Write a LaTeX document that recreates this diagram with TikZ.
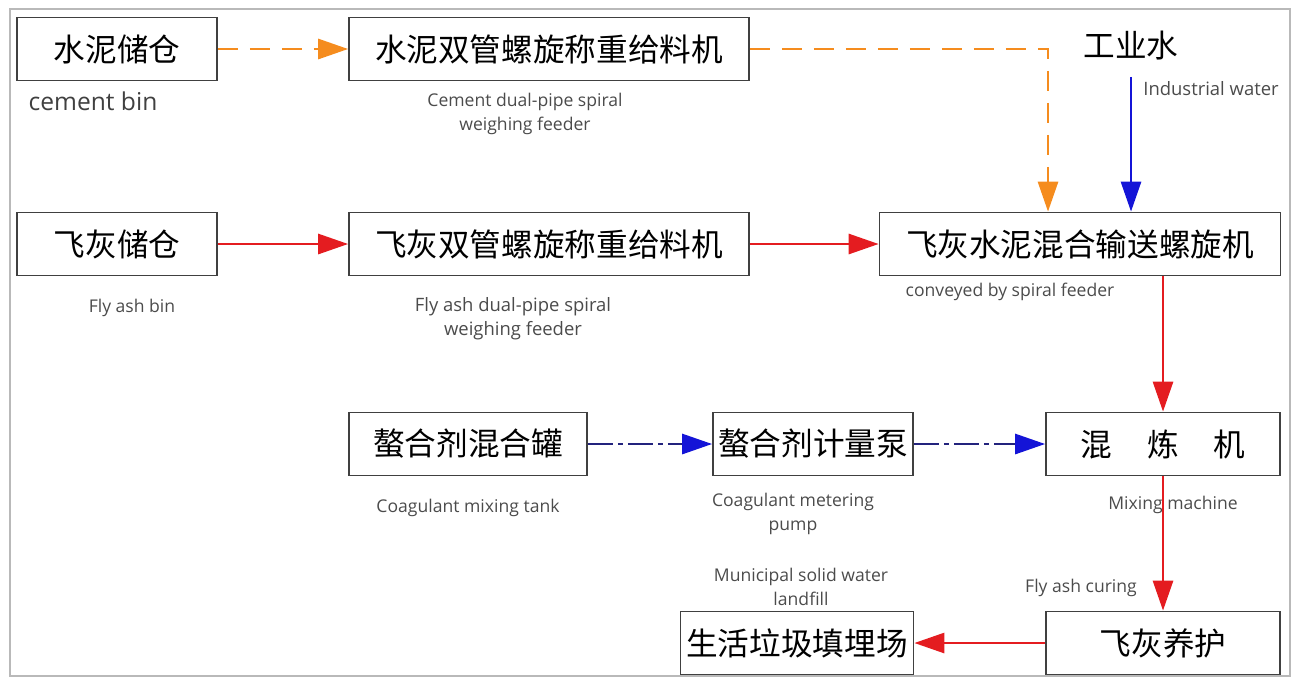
\documentclass[tikz,border=0pt]{standalone}
\usepackage{fontspec}
\setmainfont{Open Sans}
\newfontfamily\cjk{Noto Sans CJK SC}
\usepackage{tikz}
\usetikzlibrary{arrows.meta, positioning}
\definecolor{FeedOrange}{RGB}{245,140,30}
\definecolor{AshRed}{RGB}{228,28,32}
\definecolor{WaterBlue}{RGB}{20,20,215}
\definecolor{DoseNavy}{RGB}{35,35,125}
\definecolor{LabelGray}{RGB}{75,75,75}

\begin{document}
\begin{tikzpicture}[x=0.02cm,y=-0.02cm,
	box/.style={draw=black!75,line width=1pt,minimum height=1.26cm,inner sep=0pt,
		font=\cjk\fontsize{18}{18}\selectfont},
	note/.style={text=LabelGray,font=\fontsize{10}{13.5}\selectfont,align=center,inner sep=0pt},
	flow/.style={line width=1.6pt,-{Triangle[length=0.6cm,width=0.4cm]}},
	cementflow/.style={flow,FeedOrange,dash pattern=on 0.4cm off 0.24cm},
	ashflow/.style={flow,AshRed},
	waterflow/.style={flow,WaterBlue},
	doseflow/.style={line width=1.6pt,DoseNavy,dash pattern=on 0.5cm off 0.1cm on 0.1cm off 0.1cm,
		-{Triangle[length=0.6cm,width=0.4cm,color=WaterBlue]}},
]
\useasboundingbox (0,0) rectangle (1300,677);
\draw[gray!55,line width=1pt] (10,9) rectangle (1290,676);

% boxes
\node[box,minimum width=4cm] (cbin) at (117,49) {水泥储仓};
\node[box,minimum width=8cm] (cfeed) at (549,49) {水泥双管螺旋称重给料机};
\node[inner sep=0pt,font=\cjk\fontsize{18}{18}\selectfont] (water) at (1131,46) {工业水};
\node[box,minimum width=4cm] (abin) at (117,244) {飞灰储仓};
\node[box,minimum width=8cm] (afeed) at (549,244) {飞灰双管螺旋称重给料机};
\node[box,minimum width=8.02cm] (convey) at (1080,244) {飞灰水泥混合输送螺旋机};
\node[box,minimum width=4.76cm] (tank) at (468,444) {螯合剂混合罐};
\node[box,minimum width=4cm] (pump) at (813,444) {螯合剂计量泵};
\node[box,minimum width=4.68cm] (mixer) at (1163,444) {混\hspace{1.1em}炼\hspace{1.1em}机};
\node[box,minimum width=4.68cm] (curing) at (1163,643) {飞灰养护};
\node[box,minimum width=4.66cm] (landfill) at (797,643) {生活垃圾填埋场};

% english labels
\node[note,text=black!75,font=\fontsize{14}{16}\selectfont] (cbinlbl) at (93,101) {cement bin};
\node[note] (cfeedlbl) at (525,114) {Cement dual-pipe spiral\\weighing feeder};
\node[note,font=\fontsize{10.5}{13}\selectfont] (waterlbl) at (1211,89) {Industrial water};
\node[note] (abinlbl) at (132,308) {Fly ash bin};
\node[note,font=\fontsize{10.5}{13.5}\selectfont] (afeedlbl) at (513,319) {Fly ash dual-pipe spiral\\weighing feeder};
\node[note] (conveylbl) at (1010,292) {conveyed by spiral feeder};
\node[note] (tanklbl) at (468,508) {Coagulant mixing tank};
\node[note] (pumplbl) at (793,514) {Coagulant metering\\pump};
\node[note] (mixerlbl) at (1173,505) {Mixing machine};
\node[note] (curinglbl) at (1081,588) {Fly ash curing};
\node[note] (landfilllbl) at (801,587) {Municipal solid water\\landfill};

% connectors
\coordinate (cturn) at (1048,49);
\draw[cementflow] (cbin) -- (cfeed);
\draw[cementflow] (cfeed) -- (cturn) -- (cturn |- convey.north);
\draw[waterflow] ([yshift=-0.32cm]water.south) -- (water.south |- convey.north);
\draw[ashflow] (abin) -- (afeed);
\draw[ashflow] (afeed) -- (convey);
\draw[ashflow] (mixer |- convey.south) -- (mixer.north);
\draw[doseflow] (tank) -- (pump);
\draw[doseflow] (pump) -- (mixer);
\draw[ashflow] (mixer) -- (curing);
\draw[ashflow] (curing) -- (landfill);
\end{tikzpicture}
\end{document}
